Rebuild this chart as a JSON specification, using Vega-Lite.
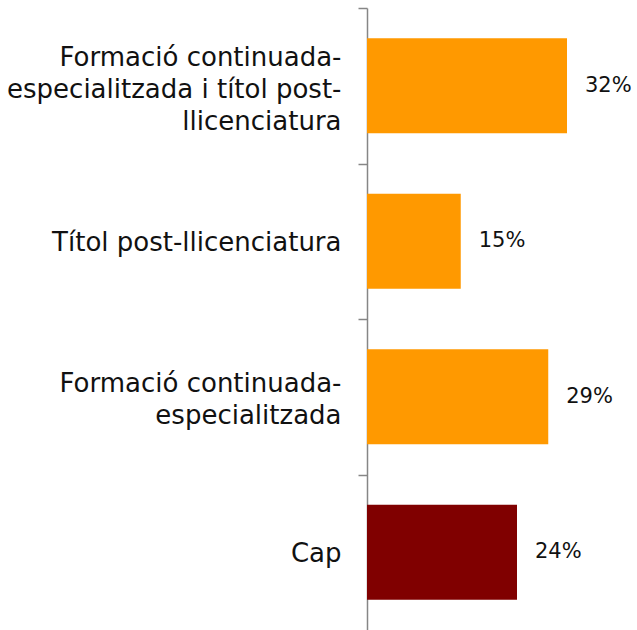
{
  "$schema": "https://vega.github.io/schema/vega-lite/v6.json",
  "autosize": "none",
  "width": 270,
  "height": 622,
  "padding": {"left": 367, "top": 8, "right": 0, "bottom": 0},
  "background": "white",
  "config": {"view": {"stroke": null}, "font": "DejaVu Sans"},
  "data": {
    "values": [
      {"cat": "Formació continuada-|especialitzada i títol post-|llicenciatura", "value": 0.32, "grp": "A"},
      {"cat": "Títol post-llicenciatura", "value": 0.15, "grp": "A"},
      {"cat": "Formació continuada-|especialitzada", "value": 0.29, "grp": "A"},
      {"cat": "Cap", "value": 0.24, "grp": "B"}
    ]
  },
  "encoding": {
    "y": {
      "field": "cat",
      "type": "nominal",
      "sort": null,
      "scale": {"paddingInner": 0.39, "paddingOuter": 0.195},
      "axis": {
        "title": null,
        "tickOffset": -77.75,
        "labelOffset": {"expr": "78.5 - (length(split(datum.value, '|')) - 1) * 14.5"},
        "labelExpr": "split(datum.label, '|')",
        "labelFont": "DejaVu Sans",
        "labelFontSize": 26,
        "labelLineHeight": 32,
        "labelColor": "#111111",
        "labelPadding": 17,
        "labelLimit": 400,
        "tickSize": 9,
        "tickColor": "#868686",
        "tickWidth": 1.5,
        "domainColor": "#868686",
        "domainWidth": 1.5
      }
    },
    "x": {
      "field": "value",
      "type": "quantitative",
      "scale": {"domain": [0, 0.432], "nice": false, "zero": true},
      "axis": null
    }
  },
  "layer": [
    {
      "mark": {"type": "bar"},
      "encoding": {
        "color": {
          "field": "grp",
          "type": "nominal",
          "scale": {"domain": ["A", "B"], "range": ["#FF9900", "#800000"]},
          "legend": null
        }
      }
    },
    {
      "mark": {"type": "text", "align": "left", "baseline": "middle", "dx": 18, "fontSize": 21, "font": "DejaVu Sans", "color": "#111111"},
      "encoding": {
        "text": {"field": "value", "type": "quantitative", "format": ".0%"}
      }
    }
  ]
}
